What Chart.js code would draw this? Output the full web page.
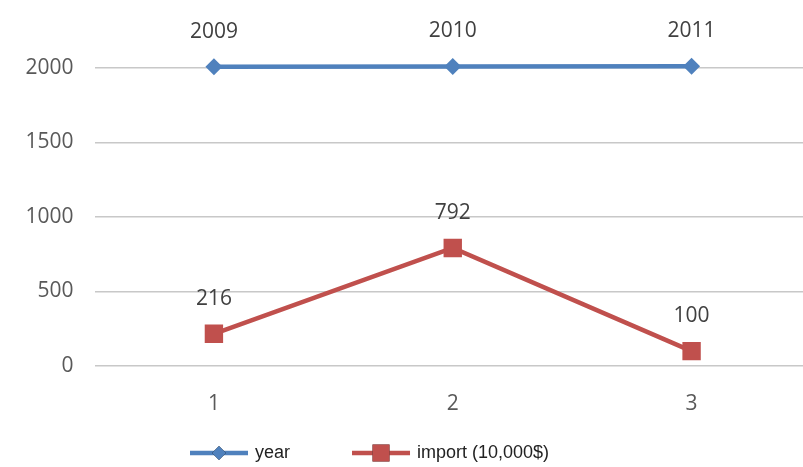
<!DOCTYPE html>
<html>
<head>
<meta charset="utf-8">
<script src="https://cdn.jsdelivr.net/npm/chart.js@4.4.0/dist/chart.umd.min.js"></script>
<style>
  html, body { margin: 0; padding: 0; background: #fff; overflow: hidden; }
  #wrap { position: absolute; left: 0; top: -30px; width: 824px; height: 497px; }
</style>
</head>
<body>
<div id="wrap"><canvas id="chartImport" width="824" height="497"></canvas></div>
<script>
// categories and series
const labels = ['1', '2', '3'];
const yearValues = [2009, 2010, 2011];
const importValues = [216, 792, 100];
const seriesNames = ['year', 'import (10,000$)'];
const yTicks = [0, 500, 1000, 1500, 2000, 2500];

const blue = '#4f81bd';
const red = '#c0504d';
const axisFont = { family: 'Open Sans', size: 21 };

// value above each marker
const pointLabels = {
    id: 'pointLabels',
    afterDatasetsDraw(chart) {
        const ctx = chart.ctx;
        ctx.save();
        ctx.font = '21px "Open Sans"';
        ctx.fillStyle = '#404040';
        ctx.textAlign = 'center';
        ctx.textBaseline = 'middle';
        chart.data.datasets.forEach((ds, i) => {
            chart.getDatasetMeta(i).data.forEach((pt, j) => {
                ctx.fillText(String(ds.data[j]), pt.x, pt.y - 35);
            });
        });
        ctx.restore();
    }
};

// legend with line + marker like the office style
const lineLegend = {
    id: 'lineLegend',
    afterDraw(chart) {
        const ctx = chart.ctx;
        const y = 483;
        let x = 190;
        ctx.save();
        ctx.font = '18px "Liberation Sans"';
        ctx.textBaseline = 'middle';
        chart.data.datasets.forEach((ds, i) => {
            ctx.strokeStyle = ds.borderColor;
            ctx.lineWidth = 4.5;
            ctx.beginPath();
            ctx.moveTo(x, y);
            ctx.lineTo(x + 58, y);
            ctx.stroke();
            Chart.helpers.drawPoint(ctx, {
                pointStyle: ds.pointStyle,
                radius: ds.pointStyle === 'rect' ? 12 : 7,
                borderWidth: 0
            }, x + 29, y);
            ctx.fillStyle = ds.borderColor;
            ctx.fill();
            ctx.fillStyle = '#222';
            ctx.fillText(ds.label, x + 65, y);
            x += 65 + ctx.measureText(ds.label).width + 62;
        });
        ctx.restore();
    }
};

const ctx = document.getElementById('chartImport').getContext('2d');
const myChart = new Chart(ctx, {
    type: 'line',
    data: {
        labels: labels,
        datasets: [{
            label: seriesNames[0],
            data: yearValues,
            borderColor: blue,
            backgroundColor: blue,
            borderWidth: 4.5,
            pointStyle: 'rectRot',
            pointRadius: 8.5,
            pointBorderWidth: 0
        },
        {
            label: seriesNames[1],
            data: importValues,
            borderColor: red,
            backgroundColor: red,
            borderWidth: 4.5,
            pointStyle: 'rect',
            pointRadius: 13,
            pointBorderWidth: 0
        }]
    },
    options: {
        responsive: false,
        animation: false,
        layout: { padding: { top: 23.5, right: 3.5, bottom: 41, left: 0 } },
        plugins: {
            legend: { display: false },
            tooltip: { enabled: false }
        },
        scales: {
            x: {
                offset: true,
                grid: { display: false },
                border: { display: false },
                ticks: { color: '#595959', font: axisFont, padding: 17 },
                afterFit(scale) { scale.height = 60; }
            },
            y: {
                min: 0,
                max: 2500,
                afterBuildTicks(scale) { scale.ticks = yTicks.map(v => ({ value: v })); },
                grid: {
                    color: c => (c.tick && c.tick.value === 2500 ? 'rgba(0,0,0,0)' : '#c8c8c8'),
                    lineWidth: 1.5,
                    drawTicks: false
                },
                border: { display: false },
                ticks: {
                    color: '#595959',
                    font: axisFont,
                    padding: 21,
                    callback: v => (v === 2500 ? '' : v)
                },
                afterFit(scale) {
                    scale.width = 94.5;
                    scale.paddingTop = 0;
                    scale.paddingBottom = 0;
                }
            }
        }
    },
    plugins: [pointLabels, lineLegend]
});
</script>
</body>
</html>
